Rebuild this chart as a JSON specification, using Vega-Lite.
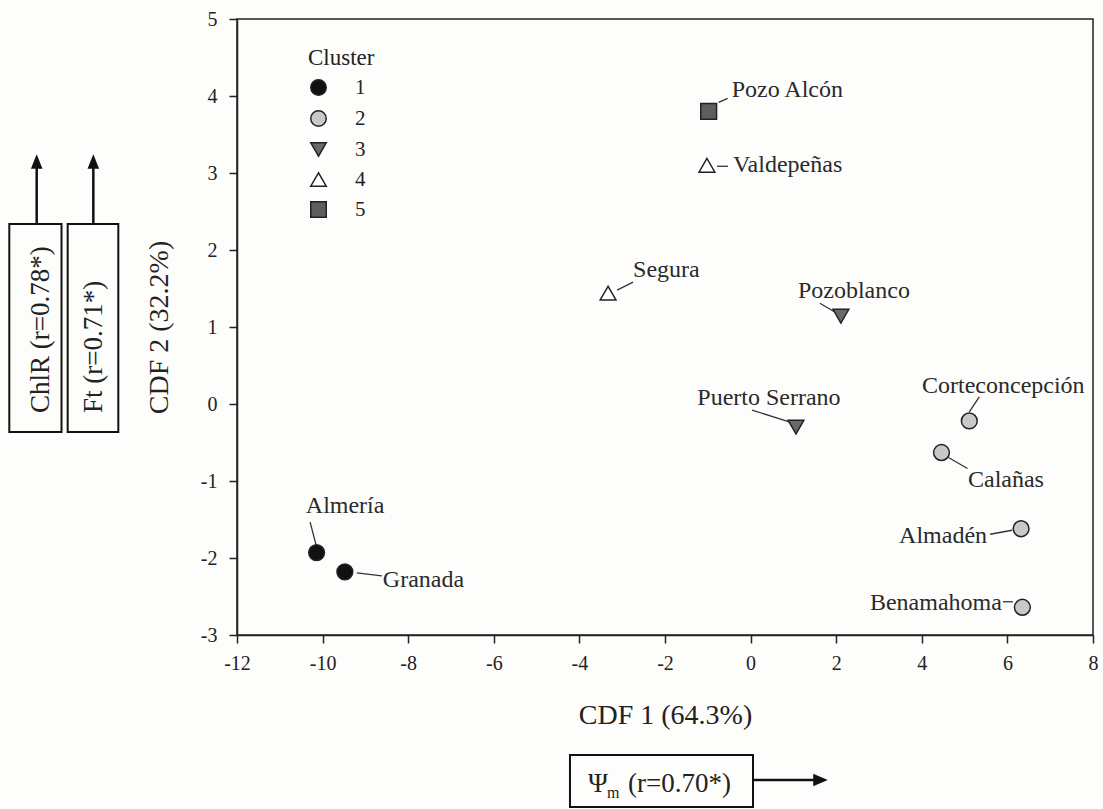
{
  "$schema": "https://vega.github.io/schema/vega-lite/v6.json",
  "width": 856,
  "height": 616,
  "autosize": {"type": "none"},
  "padding": {"left": 237, "top": 19, "right": 10, "bottom": 174},
  "background": "#fdfdfb",
  "config": {
    "view": {"stroke": "#222222", "strokeWidth": 1.5},
    "font": "Liberation Serif",
    "text": {"font": "Liberation Serif", "fontSize": 24, "fill": "#2a2a2a"},
    "axis": {
      "domainColor": "#222222", "domainWidth": 1.5,
      "tickColor": "#222222", "tickWidth": 1.5, "tickSize": 8,
      "labelFont": "Liberation Serif", "labelFontSize": 20, "labelColor": "#222222",
      "titleFont": "Liberation Serif", "titleFontSize": 28, "titleFontWeight": "normal", "titleColor": "#222222",
      "grid": false, "labelFlush": false, "labelOverlap": false, "labelBound": false
    },
    "axisX": {"labelPadding": 10, "titlePadding": 28},
    "axisY": {"labelPadding": 12, "titlePadding": 27},
    "legend": {
      "titleFont": "Liberation Serif", "labelFont": "Liberation Serif",
      "titleFontSize": 23, "titleFontWeight": "normal", "titleColor": "#222222",
      "labelFontSize": 21, "labelColor": "#222222"
    }
  },
  "data": {
    "values": [
      {"name": "Pozo Alcón", "cluster": "5", "x": -0.98, "y": 3.80},
      {"name": "Valdepeñas", "cluster": "4", "x": -1.02, "y": 3.10},
      {"name": "Segura", "cluster": "4", "x": -3.33, "y": 1.44},
      {"name": "Pozoblanco", "cluster": "3", "x": 2.11, "y": 1.14},
      {"name": "Puerto Serrano", "cluster": "3", "x": 1.06, "y": -0.30},
      {"name": "Corteconcepción", "cluster": "2", "x": 5.11, "y": -0.22},
      {"name": "Calañas", "cluster": "2", "x": 4.46, "y": -0.63},
      {"name": "Almadén", "cluster": "2", "x": 6.32, "y": -1.62},
      {"name": "Benamahoma", "cluster": "2", "x": 6.35, "y": -2.64},
      {"name": "Almería", "cluster": "1", "x": -10.14, "y": -1.93},
      {"name": "Granada", "cluster": "1", "x": -9.48, "y": -2.18}
    ]
  },
  "encoding": {
    "x": {
      "field": "x", "type": "quantitative",
      "scale": {"domain": [-12, 8], "nice": false, "zero": false},
      "axis": {"title": "CDF 1 (64.3%)", "values": [-12, -10, -8, -6, -4, -2, 0, 2, 4, 6, 8],
               "labelExpr": "datum.value < 0 ? '-' + (-datum.value) : '' + datum.value"}
    },
    "y": {
      "field": "y", "type": "quantitative",
      "scale": {"domain": [-3, 5], "nice": false, "zero": false},
      "axis": {"title": "CDF 2 (32.2%)", "values": [-3, -2, -1, 0, 1, 2, 3, 4, 5],
               "labelExpr": "datum.value < 0 ? '-' + (-datum.value) : '' + datum.value"}
    }
  },
  "layer": [
    {"transform": [{"filter": "datum.name === 'Pozo Alcón'"}], "mark": {"type": "rule", "stroke": "#333333", "strokeWidth": 1.3, "xOffset": 10, "yOffset": -9, "x2Offset": 19, "y2Offset": -13}, "encoding": {"x2": {"field": "x"}, "y2": {"field": "y"}}},
    {"transform": [{"filter": "datum.name === 'Valdepeñas'"}], "mark": {"type": "rule", "stroke": "#333333", "strokeWidth": 1.3, "xOffset": 10, "yOffset": 1, "x2Offset": 21, "y2Offset": 1}, "encoding": {"x2": {"field": "x"}, "y2": {"field": "y"}}},
    {"transform": [{"filter": "datum.name === 'Segura'"}], "mark": {"type": "rule", "stroke": "#333333", "strokeWidth": 1.3, "xOffset": 9, "yOffset": -3, "x2Offset": 25, "y2Offset": -11}, "encoding": {"x2": {"field": "x"}, "y2": {"field": "y"}}},
    {"transform": [{"filter": "datum.name === 'Pozoblanco'"}], "mark": {"type": "rule", "stroke": "#333333", "strokeWidth": 1.3, "xOffset": -21, "yOffset": -13, "x2Offset": -4, "y2Offset": -3}, "encoding": {"x2": {"field": "x"}, "y2": {"field": "y"}}},
    {"transform": [{"filter": "datum.name === 'Puerto Serrano'"}], "mark": {"type": "rule", "stroke": "#333333", "strokeWidth": 1.3, "xOffset": -44, "yOffset": -17, "x2Offset": -6, "y2Offset": -5}, "encoding": {"x2": {"field": "x"}, "y2": {"field": "y"}}},
    {"transform": [{"filter": "datum.name === 'Corteconcepción'"}], "mark": {"type": "rule", "stroke": "#333333", "strokeWidth": 1.3, "xOffset": 0, "yOffset": -9, "x2Offset": 10, "y2Offset": -24}, "encoding": {"x2": {"field": "x"}, "y2": {"field": "y"}}},
    {"transform": [{"filter": "datum.name === 'Calañas'"}], "mark": {"type": "rule", "stroke": "#333333", "strokeWidth": 1.3, "xOffset": 7, "yOffset": 5, "x2Offset": 26, "y2Offset": 16}, "encoding": {"x2": {"field": "x"}, "y2": {"field": "y"}}},
    {"transform": [{"filter": "datum.name === 'Almadén'"}], "mark": {"type": "rule", "stroke": "#333333", "strokeWidth": 1.3, "xOffset": -31, "yOffset": 5.5, "x2Offset": -9, "y2Offset": 1.5}, "encoding": {"x2": {"field": "x"}, "y2": {"field": "y"}}},
    {"transform": [{"filter": "datum.name === 'Benamahoma'"}], "mark": {"type": "rule", "stroke": "#333333", "strokeWidth": 1.3, "xOffset": -19.5, "yOffset": -5.5, "x2Offset": -9.5, "y2Offset": -5.5}, "encoding": {"x2": {"field": "x"}, "y2": {"field": "y"}}},
    {"transform": [{"filter": "datum.name === 'Almería'"}], "mark": {"type": "rule", "stroke": "#333333", "strokeWidth": 1.3, "xOffset": -6.5, "yOffset": -30.5, "x2Offset": -0.5, "y2Offset": -7.5}, "encoding": {"x2": {"field": "x"}, "y2": {"field": "y"}}},
    {"transform": [{"filter": "datum.name === 'Granada'"}], "mark": {"type": "rule", "stroke": "#333333", "strokeWidth": 1.3, "xOffset": 12, "yOffset": 1, "x2Offset": 37, "y2Offset": 4}, "encoding": {"x2": {"field": "x"}, "y2": {"field": "y"}}},
    {
      "mark": {"type": "point", "filled": true, "size": 250, "stroke": "#222222", "strokeWidth": 1.5, "opacity": 1},
      "encoding": {
        "fill": {"field": "cluster", "type": "nominal",
          "scale": {"domain": ["1", "2", "3", "4", "5"], "range": ["#111111", "#c8c8c8", "#6a6a6a", "#ffffff", "#5e5e5e"]},
          "legend": {"title": "Cluster", "orient": "none", "legendX": 71, "legendY": 28, "padding": 0, "symbolSize": 240, "rowPadding": 8, "titlePadding": 7, "labelOffset": 26,
                     "encode": {"symbols": {"update": {"stroke": {"value": "#222222"}, "strokeWidth": {"value": 1.5}}}}}},
        "shape": {"field": "cluster", "type": "nominal",
          "scale": {"domain": ["1", "2", "3", "4", "5"], "range": ["circle", "circle", "triangle-down", "triangle-up", "square"]},
          "legend": {"title": "Cluster", "orient": "none", "legendX": 71, "legendY": 28, "padding": 0, "symbolSize": 240, "rowPadding": 8, "titlePadding": 7, "labelOffset": 26,
                     "encode": {"symbols": {"update": {"stroke": {"value": "#222222"}, "strokeWidth": {"value": 1.5}}}}}}
      }
    },
    {"transform": [{"filter": "datum.name === 'Pozo Alcón'"}], "mark": {"type": "text", "align": "left", "baseline": "alphabetic", "dx": 23, "dy": -14}, "encoding": {"text": {"field": "name"}}},
    {"transform": [{"filter": "datum.name === 'Valdepeñas'"}], "mark": {"type": "text", "align": "left", "baseline": "alphabetic", "dx": 26, "dy": 7}, "encoding": {"text": {"field": "name"}}},
    {"transform": [{"filter": "datum.name === 'Segura'"}], "mark": {"type": "text", "align": "left", "baseline": "alphabetic", "dx": 25, "dy": -16}, "encoding": {"text": {"field": "name"}}},
    {"transform": [{"filter": "datum.name === 'Pozoblanco'"}], "mark": {"type": "text", "align": "center", "baseline": "alphabetic", "dx": 13, "dy": -18}, "encoding": {"text": {"field": "name"}}},
    {"transform": [{"filter": "datum.name === 'Puerto Serrano'"}], "mark": {"type": "text", "align": "center", "baseline": "alphabetic", "dx": -27, "dy": -22}, "encoding": {"text": {"field": "name"}}},
    {"transform": [{"filter": "datum.name === 'Corteconcepción'"}], "mark": {"type": "text", "align": "center", "baseline": "alphabetic", "dx": 34, "dy": -28}, "encoding": {"text": {"field": "name"}}},
    {"transform": [{"filter": "datum.name === 'Calañas'"}], "mark": {"type": "text", "align": "left", "baseline": "alphabetic", "dx": 26.5, "dy": 34.5}, "encoding": {"text": {"field": "name"}}},
    {"transform": [{"filter": "datum.name === 'Almadén'"}], "mark": {"type": "text", "align": "right", "baseline": "alphabetic", "dx": -34, "dy": 14.5}, "encoding": {"text": {"field": "name"}}},
    {"transform": [{"filter": "datum.name === 'Benamahoma'"}], "mark": {"type": "text", "align": "right", "baseline": "alphabetic", "dx": -20.5, "dy": 2.5}, "encoding": {"text": {"field": "name"}}},
    {"transform": [{"filter": "datum.name === 'Almería'"}], "mark": {"type": "text", "align": "center", "baseline": "alphabetic", "dx": 28.5, "dy": -39.5}, "encoding": {"text": {"field": "name"}}},
    {"transform": [{"filter": "datum.name === 'Granada'"}], "mark": {"type": "text", "align": "left", "baseline": "alphabetic", "dx": 38, "dy": 15}, "encoding": {"text": {"field": "name"}}},
    {"transform": [{"filter": "datum.name === 'Granada'"}], "mark": {"type": "rect", "filled": false, "stroke": "#111111", "strokeWidth": 2},
     "encoding": {"x": {"datum": -17.32}, "x2": {"datum": -16.10}, "y": {"datum": 2.338}, "y2": {"datum": -0.364}}},
    {"transform": [{"filter": "datum.name === 'Granada'"}], "mark": {"type": "rect", "filled": false, "stroke": "#111111", "strokeWidth": 2},
     "encoding": {"x": {"datum": -15.956}, "x2": {"datum": -14.773}, "y": {"datum": 2.338}, "y2": {"datum": -0.364}}},
    {"transform": [{"filter": "datum.name === 'Granada'"}], "mark": {"type": "rect", "filled": false, "stroke": "#111111", "strokeWidth": 2},
     "encoding": {"x": {"datum": -4.22}, "x2": {"datum": 0.056}, "y": {"datum": -4.558}, "y2": {"datum": -5.234}}},
    {"transform": [{"filter": "datum.name === 'Granada'"}], "mark": {"type": "rule", "stroke": "#111111", "strokeWidth": 2.5},
     "encoding": {"x": {"datum": -16.68}, "y": {"datum": 2.338}, "y2": {"datum": 3.14}}},
    {"transform": [{"filter": "datum.name === 'Granada'"}], "mark": {"type": "rule", "stroke": "#111111", "strokeWidth": 2.5},
     "encoding": {"x": {"datum": -15.357}, "y": {"datum": 2.338}, "y2": {"datum": 3.14}}},
    {"transform": [{"filter": "datum.name === 'Granada'"}], "mark": {"type": "rule", "stroke": "#111111", "strokeWidth": 2.5},
     "encoding": {"x": {"datum": 0.056}, "x2": {"datum": 1.5}, "y": {"datum": -4.883}}},
    {"transform": [{"filter": "datum.name === 'Granada'"}], "mark": {"type": "point", "filled": true, "fill": "#111111", "strokeWidth": 0, "opacity": 1, "size": 210, "shape": "M0,-1L0.8,1L-0.8,1Z"},
     "encoding": {"x": {"datum": -16.68}, "y": {"datum": 3.15}}},
    {"transform": [{"filter": "datum.name === 'Granada'"}], "mark": {"type": "point", "filled": true, "fill": "#111111", "strokeWidth": 0, "opacity": 1, "size": 210, "shape": "M0,-1L0.8,1L-0.8,1Z"},
     "encoding": {"x": {"datum": -15.357}, "y": {"datum": 3.15}}},
    {"transform": [{"filter": "datum.name === 'Granada'"}], "mark": {"type": "point", "filled": true, "fill": "#111111", "strokeWidth": 0, "opacity": 1, "size": 210, "shape": "M1,0L-1,0.85L-1,-0.85Z"},
     "encoding": {"x": {"datum": 1.633}, "y": {"datum": -4.883}}},
    {"transform": [{"filter": "datum.name === 'Granada'"}], "mark": {"type": "text", "text": "ChlR (r=0.78*)", "angle": 270, "align": "left", "baseline": "alphabetic", "fontSize": 27, "fill": "#222222"},
     "encoding": {"x": {"datum": -16.404}, "y": {"datum": -0.117}}},
    {"transform": [{"filter": "datum.name === 'Granada'"}], "mark": {"type": "text", "text": "Ft (r=0.71*)", "angle": 270, "align": "left", "baseline": "alphabetic", "fontSize": 27, "fill": "#222222"},
     "encoding": {"x": {"datum": -15.154}, "y": {"datum": -0.117}}},
    {"transform": [{"filter": "datum.name === 'Granada'"}], "mark": {"type": "text", "text": "Ψ", "align": "left", "baseline": "alphabetic", "fontSize": 27, "fill": "#222222", "dx": -77, "dy": 12},
     "encoding": {"x": {"datum": -2.0}, "y": {"datum": -4.883}}},
    {"transform": [{"filter": "datum.name === 'Granada'"}], "mark": {"type": "text", "text": "m", "align": "left", "baseline": "alphabetic", "fontSize": 16, "fill": "#222222", "dx": -58, "dy": 18},
     "encoding": {"x": {"datum": -2.0}, "y": {"datum": -4.883}}},
    {"transform": [{"filter": "datum.name === 'Granada'"}], "mark": {"type": "text", "text": "(r=0.70*)", "align": "left", "baseline": "alphabetic", "fontSize": 27, "fill": "#222222", "dx": -37, "dy": 12},
     "encoding": {"x": {"datum": -2.0}, "y": {"datum": -4.883}}}
  ]
}
